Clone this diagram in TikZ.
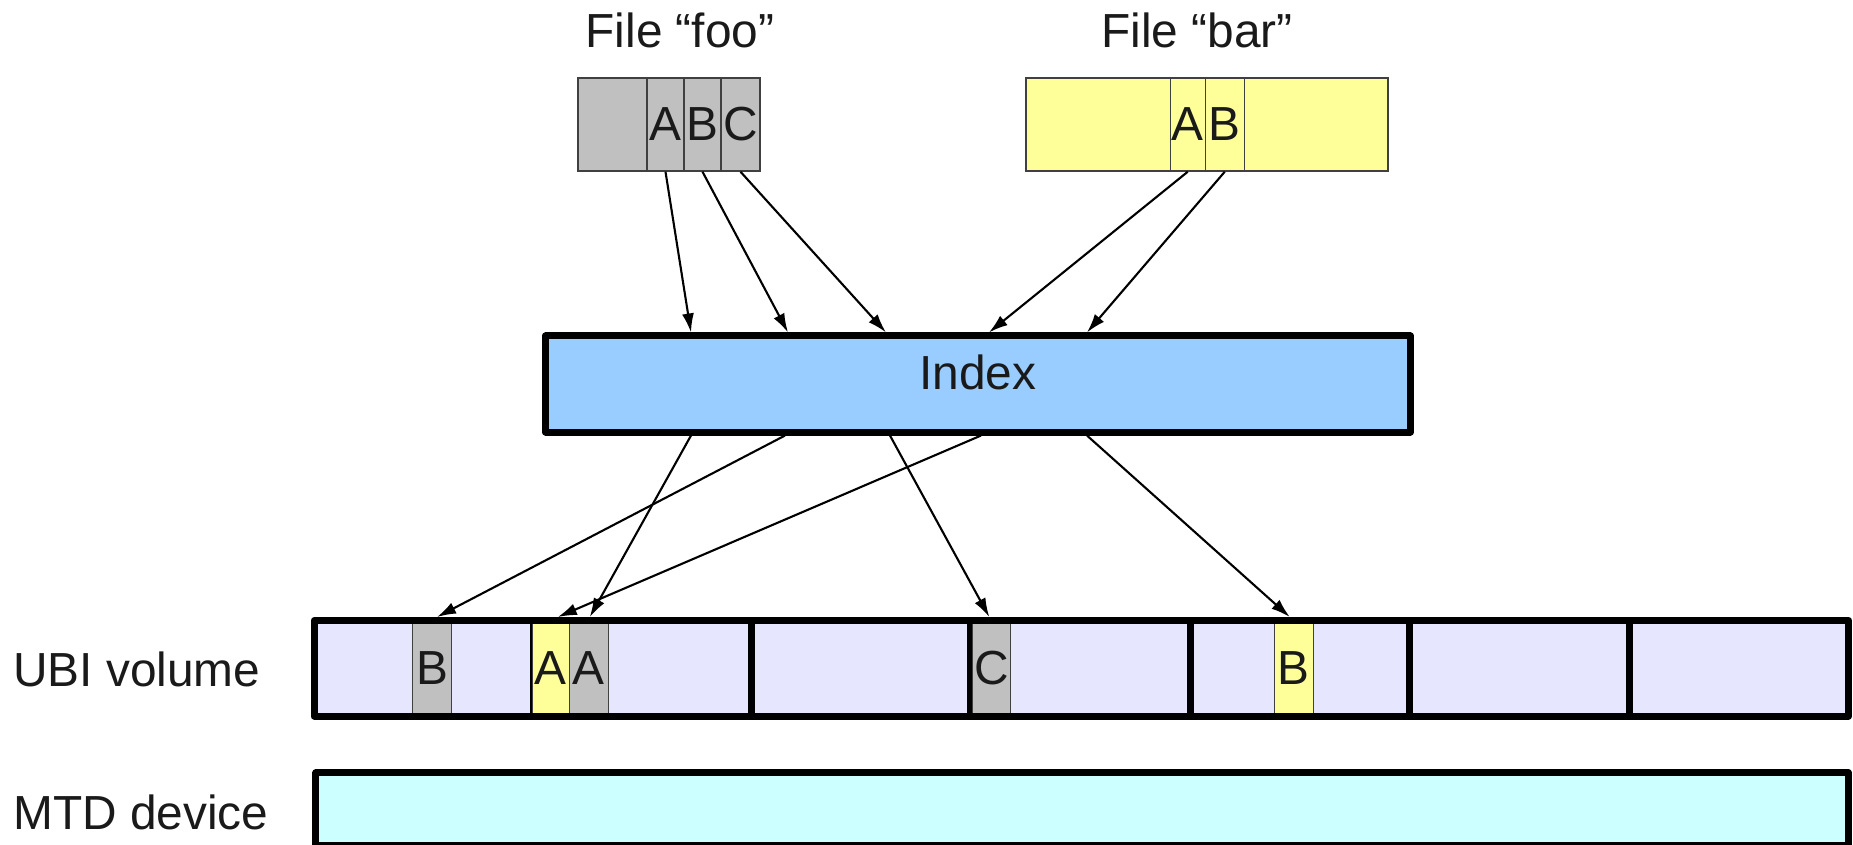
\documentclass[tikz,border=0pt]{standalone}
\usepackage{fontspec}
\setmainfont{Liberation Sans}
\usetikzlibrary{arrows.meta,calc}

\definecolor{ink}{HTML}{1A1A1A}
\definecolor{blkGray}{HTML}{C0C0C0}
\definecolor{blkYellow}{HTML}{FFFF99}
\definecolor{idxBlue}{HTML}{99CCFF}
\definecolor{volLav}{HTML}{E6E6FF}
\definecolor{mtdCyan}{HTML}{CCFFFF}

\begin{document}
\begin{tikzpicture}[x=0.01cm, y=-0.01cm,
  txt/.style={font=\fontsize{13.6pt}{16pt}\selectfont, text=ink, inner sep=0pt},
  cell/.style={txt, draw=black!75, line width=0.4pt, minimum height=0.93cm},
  gcell/.style={cell, fill=blkGray},
  ycell/.style={cell, fill=blkYellow},
  vcell/.style={txt, draw=black!75, line width=0.4pt, minimum height=1.01cm},
  frame/.style={draw=black, line width=0.07cm, line join=round},
  arr/.style={-{Latex[length=0.19cm,width=0.12cm]}, line width=0.021cm, draw=black}
]
\useasboundingbox (0,0) rectangle (1853,845);

% file titles
\node[txt, anchor=base] (fooTitle) at (680,47) {File “foo”};
\node[txt, anchor=base] (barTitle) at (1197,47) {File “bar”};

% file "foo" and its blocks
\node[gcell, minimum width=1.82cm] (fooBox) at (669,124.5) {};
\node[gcell, minimum width=0.37cm] (fooA) at (665.5,124.5) {A};
\node[gcell, minimum width=0.37cm] (fooB) at (702.5,124.5) {B};
\node[gcell, minimum width=0.39cm] (fooC) at (740.5,124.5) {C};

% file "bar" and its blocks
\node[ycell, minimum width=3.62cm] (barBox) at (1207,124.5) {};
\node[ycell, minimum width=0.35cm] (barA) at (1187.75,124.5) {A};
\node[ycell, minimum width=0.39cm] (barB) at (1224.75,124.5) {B};

% index
\node[frame, fill=idxBlue, minimum width=8.64cm, minimum height=0.96cm,
      inner sep=0pt] (index) at (978,384) {};
\node[txt, anchor=base] (indexText) at (978,389) {Index};

% UBI volume: background, eraseblock dividers, data blocks, frame
\node[fill=volLav, minimum width=15.335cm, minimum height=0.955cm,
      inner sep=0pt, outer sep=0pt] (ubi) at (1081.25,668.25) {};
\foreach \x in {533,751.5,970.5,1190.5,1409,1629}
  \draw[frame] (ubi.north -| \x,0) -- (ubi.south -| \x,0);
\node[vcell, fill=blkGray,   minimum width=0.394cm] (ubiB)  at (432,668.25)    {B};
\node[vcell, fill=blkYellow, minimum width=0.37cm]  (ubiAy) at (550.8,668.25)  {A};
\node[vcell, fill=blkGray,   minimum width=0.39cm]  (ubiAg) at (588.8,668.25)  {A};
\node[vcell, fill=blkGray,   minimum width=0.38cm]  (ubiC)  at (991.3,668.25)  {C};
\node[vcell, fill=blkYellow, minimum width=0.39cm]  (ubiBy) at (1293.8,668.25) {B};
\draw[frame] (ubi.north west) rectangle (ubi.south east);

% MTD device
\node[frame, fill=mtdCyan, minimum width=15.317cm, minimum height=0.725cm,
      inner sep=0pt] (mtd) at (1082.15,809.25) {};

% row labels
\node[txt, anchor=base west] (ubiLabel) at (12.5,686) {UBI volume};
\node[txt, anchor=base west] (mtdLabel) at (12.6,829) {MTD device};

% entry points on the index
\foreach \k/\x in {1/691,2/788,3/886,4/989,5/1087}
  \coordinate (in\k) at (index.north -| \x,0);
\foreach \k/\x in {1/691,2/785,3/890,4/981,5/1087}
  \coordinate (out\k) at (index.south -| \x,0);

% file blocks -> index
\draw[arr] (fooA.south) -- (in1);
\draw[arr] (fooB.south) -- (in2);
\draw[arr] (fooC.south) -- (in3);
\draw[arr] (barA.south) -- (in4);
\draw[arr] (barB.south) -- (in5);

% index -> blocks on the volume
\draw[arr] (out1) -- ($(ubiAg.north)+(1,0)$);
\draw[arr] (out2) -- ($(ubiB.north)+(5,0)$);
\draw[arr] (out3) -- ($(ubiC.north)+(-2,0)$);
\draw[arr] (out4) -- ($(ubiAy.north)+(7,0)$);
\draw[arr] (out5) -- ($(ubiBy.north)+(-4,0)$);
\end{tikzpicture}
\end{document}
